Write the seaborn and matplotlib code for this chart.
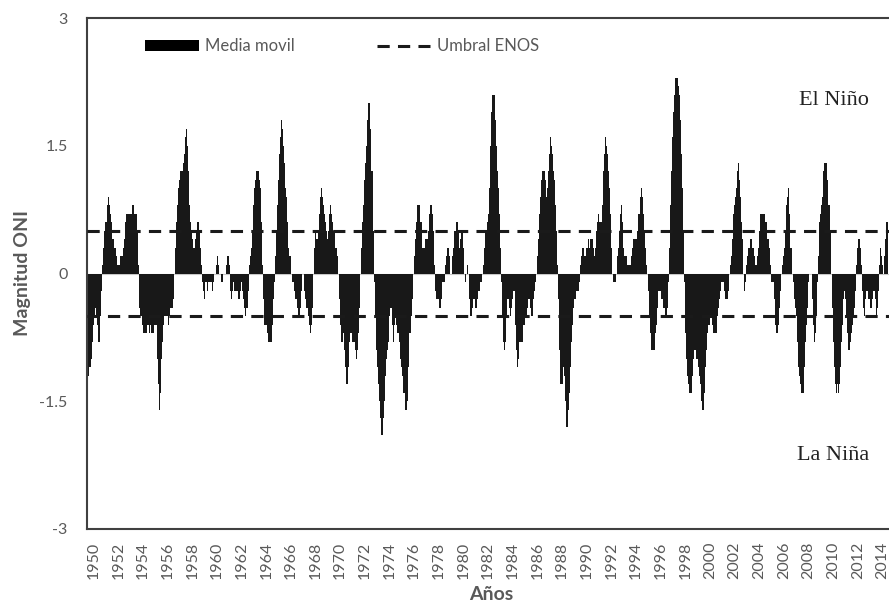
import numpy as np
import pandas as pd
import seaborn as sns
import matplotlib.pyplot as plt
from matplotlib.patches import Patch
from matplotlib.lines import Line2D

# Monthly ONI moving-average values, Jan 1950 - Dec 2014
oni_1950s = [
    -1.4, -1.2, -1.1, -1.1, -1.0, -0.8, -0.6, -0.5, -0.4, -0.5, -0.6, -0.8,
    -0.8, -0.5, -0.2, 0.1, 0.3, 0.5, 0.6, 0.8, 0.9, 0.8, 0.7, 0.6,
    0.4, 0.4, 0.3, 0.3, 0.2, 0.1, 0.1, 0.1, 0.2, 0.2, 0.2, 0.3,
    0.4, 0.6, 0.7, 0.7, 0.7, 0.7, 0.7, 0.7, 0.8, 0.8, 0.7, 0.7,
    0.7, 0.5, 0.1, -0.4, -0.5, -0.5, -0.6, -0.7, -0.7, -0.7, -0.6, -0.6,
    -0.7, -0.6, -0.7, -0.7, -0.7, -0.6, -0.6, -0.6, -1.0, -1.3, -1.6, -1.4,
    -1.0, -0.8, -0.6, -0.5, -0.5, -0.5, -0.5, -0.6, -0.5, -0.4, -0.4, -0.4,
    -0.3, 0.0, 0.3, 0.6, 0.8, 1.0, 1.1, 1.2, 1.2, 1.3, 1.4, 1.6,
    1.7, 1.5, 1.2, 0.8, 0.6, 0.5, 0.4, 0.3, 0.3, 0.4, 0.5, 0.6,
    0.6, 0.5, 0.3, 0.1, -0.1, -0.2, -0.3, -0.1, -0.1, -0.2, -0.1, -0.1,
]
oni_1960s = [
    -0.1, -0.1, -0.2, -0.1, 0.0, 0.0, 0.1, 0.2, 0.1, 0.0, -0.1, -0.1,
    0.0, 0.0, 0.0, 0.1, 0.2, 0.2, 0.1, -0.2, -0.3, -0.2, -0.1, -0.2,
    -0.2, -0.2, -0.2, -0.3, -0.3, -0.2, -0.1, -0.2, -0.3, -0.4, -0.5, -0.4,
    -0.4, -0.2, 0.1, 0.2, 0.3, 0.5, 0.8, 1.0, 1.1, 1.2, 1.2, 1.1,
    1.0, 0.6, 0.1, -0.3, -0.6, -0.6, -0.6, -0.7, -0.8, -0.8, -0.8, -0.8,
    -0.6, -0.3, -0.1, 0.2, 0.5, 0.8, 1.1, 1.4, 1.6, 1.8, 1.7, 1.5,
    1.3, 1.0, 0.9, 0.6, 0.3, 0.2, 0.2, 0.0, -0.1, -0.1, -0.2, -0.3,
    -0.4, -0.5, -0.5, -0.4, -0.2, 0.0, 0.0, -0.2, -0.3, -0.4, -0.4, -0.5,
    -0.6, -0.7, -0.6, -0.4, 0.0, 0.3, 0.5, 0.4, 0.4, 0.5, 0.7, 0.9,
    1.0, 0.9, 0.8, 0.7, 0.6, 0.5, 0.4, 0.5, 0.7, 0.8, 0.7, 0.6,
]
oni_1970s = [
    0.5, 0.3, 0.3, 0.2, 0.0, -0.3, -0.6, -0.8, -0.8, -0.7, -0.9, -1.1,
    -1.3, -1.3, -1.1, -0.8, -0.7, -0.7, -0.8, -0.8, -0.8, -0.9, -1.0, -0.9,
    -0.7, -0.4, 0.0, 0.3, 0.6, 0.8, 1.1, 1.3, 1.5, 1.8, 2.0, 2.0,
    1.7, 1.2, 0.5, -0.1, -0.5, -0.9, -1.1, -1.3, -1.5, -1.7, -1.9, -1.9,
    -1.7, -1.5, -1.2, -1.0, -0.9, -0.8, -0.5, -0.4, -0.4, -0.6, -0.8, -0.6,
    -0.5, -0.6, -0.7, -0.7, -0.8, -1.0, -1.1, -1.2, -1.4, -1.4, -1.6, -1.6,
    -1.5, -1.1, -0.7, -0.5, -0.3, 0.0, 0.2, 0.4, 0.6, 0.8, 0.8, 0.8,
    0.6, 0.6, 0.3, 0.3, 0.3, 0.4, 0.4, 0.4, 0.5, 0.7, 0.8, 0.8,
    0.7, 0.5, 0.1, -0.2, -0.3, -0.3, -0.3, -0.4, -0.4, -0.3, -0.1, -0.1,
    -0.1, 0.1, 0.2, 0.3, 0.2, 0.0, 0.0, 0.2, 0.3, 0.5, 0.5, 0.6,
]
oni_1980s = [
    0.6, 0.5, 0.3, 0.4, 0.5, 0.5, 0.3, 0.0, -0.1, 0.0, 0.1, 0.0,
    -0.3, -0.5, -0.5, -0.4, -0.3, -0.3, -0.4, -0.4, -0.3, -0.2, -0.2, -0.1,
    -0.1, 0.0, 0.1, 0.3, 0.5, 0.6, 0.7, 1.0, 1.5, 1.9, 2.1, 2.1,
    2.1, 1.8, 1.5, 1.2, 1.0, 0.7, 0.3, -0.1, -0.5, -0.8, -0.9, -0.8,
    -0.5, -0.3, -0.3, -0.4, -0.5, -0.4, -0.3, -0.2, -0.2, -0.6, -0.9, -1.1,
    -1.0, -0.8, -0.8, -0.8, -0.8, -0.6, -0.5, -0.5, -0.4, -0.3, -0.3, -0.4,
    -0.5, -0.5, -0.3, -0.2, -0.1, 0.0, 0.2, 0.4, 0.7, 0.9, 1.1, 1.2,
    1.2, 1.2, 1.1, 0.9, 1.0, 1.2, 1.4, 1.6, 1.5, 1.4, 1.2, 1.1,
    0.8, 0.5, 0.1, -0.3, -0.9, -1.3, -1.3, -1.1, -1.2, -1.5, -1.8, -1.8,
    -1.6, -1.4, -1.1, -0.8, -0.6, -0.4, -0.3, -0.3, -0.2, -0.2, -0.2, -0.1,
]
oni_1990s = [
    0.1, 0.2, 0.3, 0.3, 0.2, 0.2, 0.3, 0.3, 0.4, 0.3, 0.4, 0.4,
    0.4, 0.3, 0.2, 0.3, 0.5, 0.6, 0.7, 0.6, 0.6, 0.8, 1.2, 1.4,
    1.6, 1.5, 1.4, 1.2, 1.0, 0.7, 0.3, 0.0, -0.1, -0.1, -0.1, 0.0,
    0.2, 0.3, 0.5, 0.7, 0.8, 0.6, 0.3, 0.2, 0.2, 0.2, 0.1, 0.1,
    0.1, 0.1, 0.2, 0.3, 0.4, 0.4, 0.4, 0.4, 0.5, 0.7, 0.9, 1.0,
    0.9, 0.7, 0.5, 0.3, 0.1, 0.0, -0.2, -0.5, -0.7, -0.9, -0.9, -0.9,
    -0.9, -0.7, -0.6, -0.4, -0.2, -0.2, -0.2, -0.3, -0.3, -0.4, -0.4, -0.5,
    -0.5, -0.4, -0.1, 0.3, 0.8, 1.2, 1.6, 1.9, 2.1, 2.3, 2.3, 2.2,
    2.1, 1.8, 1.4, 1.0, 0.5, -0.1, -0.7, -1.0, -1.2, -1.3, -1.4, -1.4,
    -1.4, -1.2, -1.0, -0.9, -0.9, -1.0, -1.0, -1.1, -1.2, -1.3, -1.5, -1.6,
]
oni_2000s = [
    -1.6, -1.4, -1.1, -0.9, -0.7, -0.6, -0.6, -0.5, -0.5, -0.6, -0.7, -0.7,
    -0.7, -0.5, -0.4, -0.3, -0.2, -0.1, -0.1, -0.1, -0.2, -0.3, -0.3, -0.3,
    -0.2, 0.0, 0.1, 0.2, 0.4, 0.7, 0.8, 0.9, 1.0, 1.2, 1.3, 1.1,
    0.9, 0.6, 0.4, 0.0, -0.2, -0.1, 0.1, 0.2, 0.3, 0.3, 0.4, 0.4,
    0.3, 0.2, 0.1, 0.1, 0.2, 0.3, 0.5, 0.7, 0.7, 0.7, 0.7, 0.7,
    0.6, 0.6, 0.4, 0.4, 0.3, 0.1, -0.1, -0.1, -0.1, -0.3, -0.6, -0.7,
    -0.7, -0.6, -0.4, -0.2, 0.0, 0.1, 0.2, 0.3, 0.5, 0.8, 0.9, 1.0,
    0.7, 0.3, 0.0, -0.1, -0.3, -0.4, -0.5, -0.8, -1.1, -1.2, -1.3, -1.4,
    -1.4, -1.4, -1.1, -0.8, -0.6, -0.4, -0.1, 0.0, 0.0, 0.0, -0.3, -0.6,
    -0.8, -0.7, -0.5, -0.1, 0.2, 0.6, 0.7, 0.8, 0.9, 1.2, 1.3, 1.3,
]
oni_2010s = [
    1.3, 1.1, 0.8, 0.5, 0.0, -0.4, -0.8, -1.1, -1.3, -1.4, -1.3, -1.4,
    -1.3, -1.1, -0.8, -0.6, -0.3, -0.2, -0.3, -0.5, -0.7, -0.9, -0.9, -0.8,
    -0.7, -0.6, -0.5, -0.4, -0.2, 0.1, 0.3, 0.4, 0.4, 0.3, 0.1, -0.2,
    -0.4, -0.5, -0.3, -0.2, -0.3, -0.3, -0.4, -0.4, -0.3, -0.2, -0.2, -0.3,
    -0.5, -0.4, -0.2, 0.1, 0.3, 0.2, 0.1, 0.0, 0.2, 0.4, 0.6, 0.6,
]

oni = oni_1950s + oni_1960s + oni_1970s + oni_1980s + oni_1990s + oni_2000s + oni_2010s
tick_years = list(range(1950, 2015, 2))
y_ticks = [-3, -1.5, 0, 1.5, 3]
y_labels = ['-3', '-1.5', '0', '1.5', '3']
umbral = 0.5

df = pd.DataFrame({'mes': np.arange(len(oni)), 'oni': oni})

sns.set_style('white')
plt.rcParams['font.family'] = ['Lato', 'DejaVu Sans']

W, H = 889, 606
fig = plt.figure(figsize=(W / 100, H / 100), dpi=100)
px_per_month = 1.027
ax = fig.add_axes([87 / W, 77 / H, 808 / W, 511 / H])

sns.barplot(data=df, x='mes', y='oni', native_scale=True, width=1.0,
            color='#181818', saturation=1, linewidth=0, ax=ax)

ax.axhline(0, color='#c8c8c8', lw=0.8, zorder=0)
for v in (umbral, -umbral):
    ax.axhline(v, color='#1a1a1a', lw=2.2, ls=(0, (4, 2.7)), zorder=3)

ax.set_xlim(-0.5, -0.5 + 808 / px_per_month)
ax.set_ylim(-3, 3)

ax.set_xticks([6 + 24 * i for i in range(len(tick_years))])
ax.set_xticklabels([str(y) for y in tick_years], rotation=90)
ax.set_yticks(y_ticks)
ax.set_yticklabels(y_labels)
ax.tick_params(axis='x', length=0, pad=9, labelsize=11.5, labelcolor='#595959')
ax.tick_params(axis='y', length=0, pad=14, labelsize=11.5, labelcolor='#595959')

for s in ax.spines.values():
    s.set_color('#404040')
    s.set_linewidth(1.5)

ax.set_xlabel('Años', fontsize=14, fontweight='bold', color='#595959', labelpad=5)
ax.set_ylabel('Magnitud ONI', fontsize=14, fontweight='bold', color='#595959', labelpad=6)

ax.text(0.9245, 0.8376, 'El Niño', transform=ax.transAxes, ha='center', va='center',
        fontsize=16, family=['Liberation Serif', 'DejaVu Serif'], color='#222222')
ax.text(0.9235, 0.1448, 'La Niña', transform=ax.transAxes, ha='center', va='center',
        fontsize=16, family=['Liberation Serif', 'DejaVu Serif'], color='#222222')

handles = [Patch(facecolor='#000000', edgecolor='none'),
           Line2D([0], [0], color='#1a1a1a', lw=2.2, ls=(0, (4, 2.7)))]
ax.legend(handles, ['Media movil', 'Umbral ENOS'], ncol=2, frameon=False,
          loc='center left', bbox_to_anchor=(0.0619, 0.945), borderpad=0,
          handlelength=3.2, handleheight=0.6, handletextpad=0.4, columnspacing=4.9,
          prop={'size': 12}, labelcolor='#595959')

fig.savefig('out.png', dpi=100)
